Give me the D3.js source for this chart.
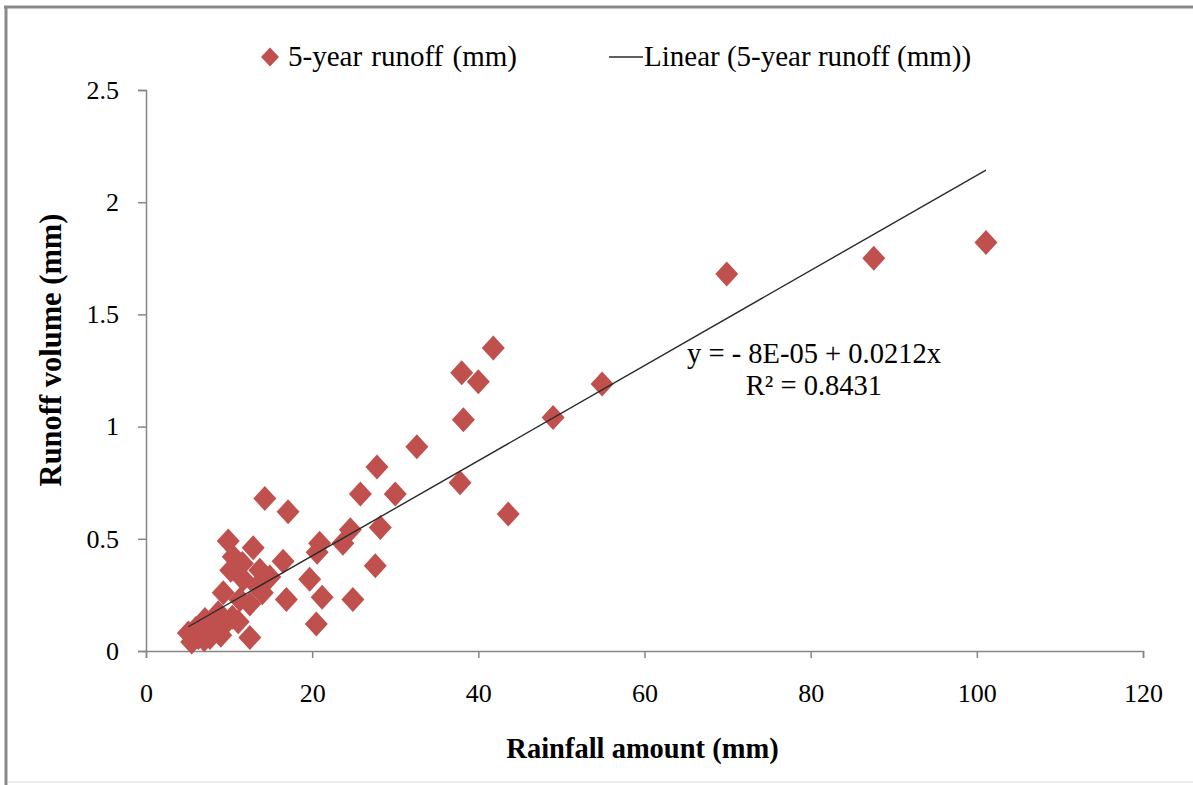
<!DOCTYPE html>
<html>
<head>
<meta charset="utf-8">
<script src="https://cdn.jsdelivr.net/npm/d3@7"></script>
<style>
  html, body { margin: 0; padding: 0; background: #fff; }
  svg { display: block; }
  text { font-family: "Liberation Serif", "Times New Roman", serif; fill: #000; }
</style>
</head>
<body>
<svg id="chart" width="1193" height="785"></svg>
<script>
// ---- Data ----
const rainfall = [101.1, 87.6, 69.9, 54.9, 49.0, 43.6, 41.8, 40.0, 38.0, 38.2, 37.8, 32.6, 30.0, 27.8, 28.2, 27.6, 25.8, 24.6, 23.7, 24.9,
  20.9, 20.6, 21.2, 20.5, 19.7, 17.1, 14.3, 16.5, 16.9, 14.9, 14.0, 12.9, 9.9, 10.5, 11.6, 13.7, 11.7, 13.4, 9.3, 12.5,
  10.4, 12.5, 7.1, 5.1, 6.3, 8.3, 5.5, 9.5, 7.7, 11.1, 8.7, 11.3, 10.2, 6.0, 7.0, 8.0, 9.0, 6.6];
const runoff = [1.82, 1.75, 1.68, 1.19, 1.04, 0.61, 1.35, 1.20, 1.24, 1.03, 0.75, 0.91, 0.70, 0.82, 0.55, 0.38, 0.70, 0.54, 0.48, 0.23,
  0.48, 0.44, 0.24, 0.12, 0.32, 0.62, 0.68, 0.40, 0.23, 0.33, 0.26, 0.46, 0.49, 0.42, 0.39, 0.36, 0.32, 0.29, 0.26, 0.21,
  0.15, 0.06, 0.14, 0.08, 0.06, 0.09, 0.04, 0.12, 0.06, 0.13, 0.17, 0.23, 0.36, 0.10, 0.05, 0.12, 0.07, 0.11];
const xTicks = [0, 20, 40, 60, 80, 100, 120];
const yTicks = [0, 0.5, 1, 1.5, 2, 2.5];
const yTickLabels = ["0", "0.5", "1", "1.5", "2", "2.5"];
const trendIntercept = -0.00008;
const trendSlope = 0.0212;
const legendLabels = ["5-year runoff (mm)", "Linear (5-year runoff (mm))"];
const equationLines = ["y = - 8E-05 + 0.0212x", "R\u00B2 = 0.8431"];
const xTitle = "Rainfall amount (mm)";
const yTitle = "Runoff volume (mm)";

// ---- Layout ----
const svg = d3.select("#chart");
const plot = { left: 146, right: 1143, top: 90, bottom: 651 };
const markerColor = "#C0504D";
const axisColor = "#868686";

const x = d3.scaleLinear().domain([0, 120]).range([plot.left, plot.right]);
const y = d3.scaleLinear().domain([0, 2.5]).range([plot.bottom, plot.top]);

// outer frame (grey border top and left)
svg.append("rect").attr("x", 0).attr("y", 0).attr("width", 1193).attr("height", 785).attr("fill", "#fff");
svg.append("line").attr("x1", 4).attr("x2", 1193).attr("y1", 7).attr("y2", 7)
  .attr("stroke", "#8a8a8a").attr("stroke-width", 3);
svg.append("line").attr("x1", 6).attr("x2", 6).attr("y1", 6).attr("y2", 785)
  .attr("stroke", "#8a8a8a").attr("stroke-width", 3);
svg.append("line").attr("x1", 8).attr("x2", 1193).attr("y1", 782).attr("y2", 782)
  .attr("stroke", "#eeeeee").attr("stroke-width", 2);

// axes
const xAxis = d3.axisBottom(x).tickValues(xTicks).tickSize(7).tickPadding(26).tickFormat(d3.format("d"));
const gx = svg.append("g").attr("transform", `translate(0,${plot.bottom})`).call(xAxis);
gx.select(".domain").attr("stroke", axisColor).attr("stroke-width", 1.5);
gx.selectAll(".tick line").attr("stroke", axisColor).attr("stroke-width", 1.5);
gx.selectAll(".tick text").attr("font-size", 26).attr("font-family", "Liberation Serif").attr("fill", "#000");

const yAxis = d3.axisLeft(y).tickValues(yTicks).tickSize(8).tickPadding(19)
  .tickFormat((d, i) => yTickLabels[i]);
const gy = svg.append("g").attr("transform", `translate(${plot.left},0)`).call(yAxis);
gy.select(".domain").attr("stroke", axisColor).attr("stroke-width", 1.5);
gy.selectAll(".tick line").attr("stroke", axisColor).attr("stroke-width", 1.5);
gy.selectAll(".tick text").attr("font-size", 26).attr("font-family", "Liberation Serif").attr("fill", "#000");

// markers
const diamond = (rx, ry) => `M0,${-ry}L${rx},0L0,${ry}L${-rx},0Z`;
const pts = rainfall.map((r, i) => ({ x: r, y: runoff[i] }));
svg.append("g").selectAll("path").data(pts).join("path")
  .attr("d", diamond(11.5, 12.5))
  .attr("transform", d => `translate(${x(d.x)},${y(d.y)})`)
  .attr("fill", markerColor);

// trend line
const xr = d3.extent(rainfall);
svg.append("line")
  .attr("x1", x(xr[0])).attr("y1", y(trendIntercept + trendSlope * xr[0]))
  .attr("x2", x(xr[1])).attr("y2", y(trendIntercept + trendSlope * xr[1]))
  .attr("stroke", "#2a2a2a").attr("stroke-width", 1.4);

// equation
svg.append("text").attr("x", 814).attr("y", 363).attr("text-anchor", "middle")
  .attr("font-size", 28.5).text(equationLines[0]);
svg.append("text").attr("x", 814).attr("y", 395).attr("text-anchor", "middle")
  .attr("font-size", 28.5).text(equationLines[1]);

// legend
const lg = svg.append("g");
lg.append("path").attr("d", diamond(9, 9.5)).attr("transform", "translate(270,57)").attr("fill", markerColor);
lg.append("text").attr("x", 288).attr("y", 66).attr("font-size", 29).attr("word-spacing", 2).text(legendLabels[0]);
lg.append("line").attr("x1", 609).attr("x2", 643).attr("y1", 57).attr("y2", 57)
  .attr("stroke", "#2a2a2a").attr("stroke-width", 1.4);
lg.append("text").attr("x", 644).attr("y", 66).attr("font-size", 29).text(legendLabels[1]);

// axis titles
svg.append("text").attr("x", (plot.left + plot.right) / 2 - 2).attr("y", 758)
  .attr("text-anchor", "middle").attr("font-size", 28.5).attr("font-weight", "bold").text(xTitle);
svg.append("text").attr("transform", "translate(61,350) rotate(-90)")
  .attr("text-anchor", "middle").attr("font-size", 30.5).attr("font-weight", "bold").text(yTitle);
</script>
</body>
</html>
